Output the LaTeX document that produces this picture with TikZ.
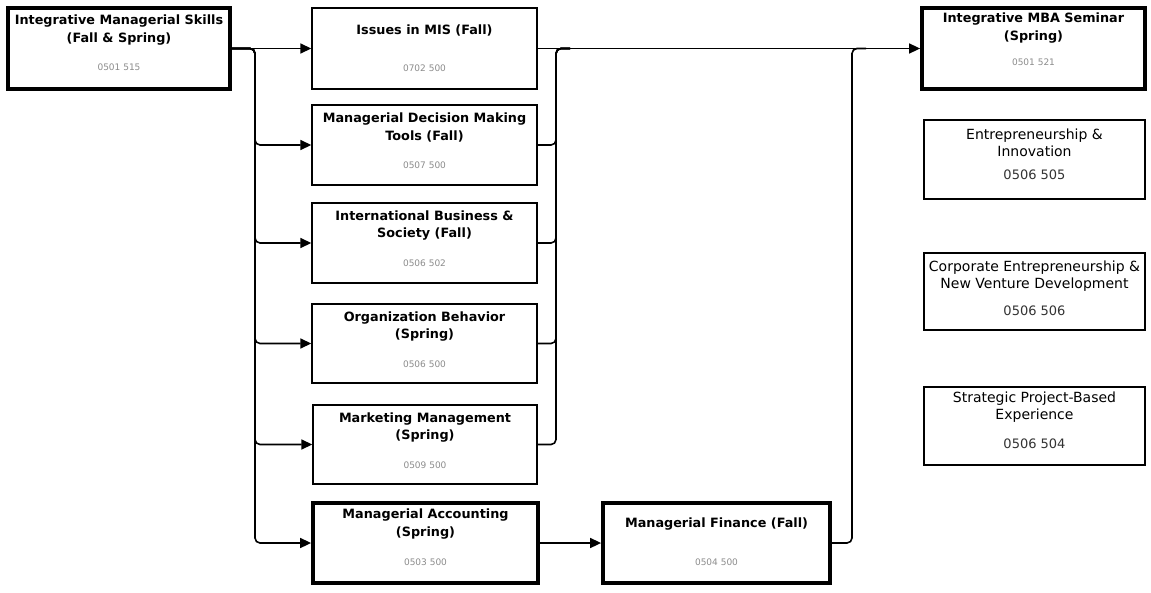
\documentclass[tikz,border=0pt]{standalone}
\usepackage{fontspec}
\setmainfont{DejaVu Sans}
\usetikzlibrary{arrows.meta,calc}
\tikzset{
  box/.style={draw=black, line width=1.4pt, fill=white, inner sep=0pt},
  thickbox/.style={box, line width=3.8pt},
  ttl/.style={align=center, font=\bfseries\fontsize{12.8}{17.5}\selectfont, inner sep=0pt},
  ttlr/.style={align=center, font=\fontsize{14}{17}\selectfont, inner sep=0pt},
  code/.style={font=\fontsize{9}{10}\selectfont, text=black!45, inner sep=0pt},
  coder/.style={font=\fontsize{13}{14}\selectfont, text=black!80, inner sep=0pt},
  conn/.style={draw=black, line width=1.6pt, rounded corners=5pt},
  arr/.style={-{Triangle[length=11pt,width=10pt]}},
}
\newcommand{\cbox}[9]{%
  \node[#8, minimum width=#4-#2, minimum height=#5-#3] (#1) at ({(#2+#4)/2},{(#3+#5)/2}) {};
  \node[#9] (#1t) at ($(#1.north)+(0,#6)$) {#7};
}
\newcommand{\ccode}[4]{%
  \node[#4] (#1c) at ($(#1.north)+(0,#2)$) {#3};
}
\begin{document}
\begin{tikzpicture}[x=1pt,y=-1pt]
\useasboundingbox (0,0) rectangle (1151,592);
% left column
\cbox{A}{8}{8}{230}{89}{24}{Integrative Managerial Skills\\(Fall \& Spring)}{thickbox}{ttl}
\ccode{A}{61}{0501 515}{code}
\cbox{B}{312}{8}{537}{89}{23}{Issues in MIS (Fall)}{box}{ttl}
\ccode{B}{61}{0702 500}{code}
\cbox{C}{312}{105}{537}{185}{23}{Managerial Decision Making\\Tools (Fall)}{box}{ttl}
\ccode{C}{61}{0507 500}{code}
\cbox{D}{312}{203}{537}{283}{23}{International Business \&\\Society (Fall)}{box}{ttl}
\ccode{D}{61}{0506 502}{code}
\cbox{E}{312}{304}{537}{383}{23}{Organization Behavior\\(Spring)}{box}{ttl}
\ccode{E}{61}{0506 500}{code}
\cbox{F}{313}{405}{537}{484}{23}{Marketing Management\\(Spring)}{box}{ttl}
\ccode{F}{61}{0509 500}{code}
\cbox{G}{313}{503}{538}{583}{23}{Managerial Accounting\\(Spring)}{thickbox}{ttl}
\ccode{G}{61}{0503 500}{code}
\cbox{H}{603}{503}{830}{583}{23}{Managerial Finance (Fall)}{thickbox}{ttl}
\ccode{H}{61}{0504 500}{code}
% right column
\cbox{I}{922}{8}{1145}{89}{22}{Integrative MBA Seminar\\(Spring)}{thickbox}{ttl}
\ccode{I}{56}{0501 521}{code}
\cbox{J}{924}{120}{1145}{199}{23}{Entrepreneurship \&\\Innovation}{box}{ttlr}
\ccode{J}{55}{0506 505}{coder}
\cbox{K}{924}{253}{1145}{330}{24}{Corporate Entrepreneurship \&\\New Venture Development}{box}{ttlr}
\ccode{K}{58}{0506 506}{coder}
\cbox{L}{924}{387}{1145}{465}{21}{Strategic Project-Based\\Experience}{box}{ttlr}
\ccode{L}{57}{0506 504}{coder}
% bus coordinates
\coordinate (lb) at (255,48.5);
\coordinate (rb) at (556,48.5);
\coordinate (fb) at (852,48.5);
% left bus
\draw[conn,arr] (A.east) -- (B.west);
\foreach \t in {C,D,E,F,G}{
  \draw[conn,arr] (A.east) -- (lb) |- (\t.west);
}
% right bus
\draw[conn,arr] (B.east) -- (I.west);
\foreach \t in {C,D,E,F}{
  \draw[conn] (\t.east) -| (rb) -- ++(14,0);
}
\draw[conn,arr] (G.east) -- (H.west);
\draw[conn] (H.east) -| (fb) -- ++(14,0);
\end{tikzpicture}
\end{document}
